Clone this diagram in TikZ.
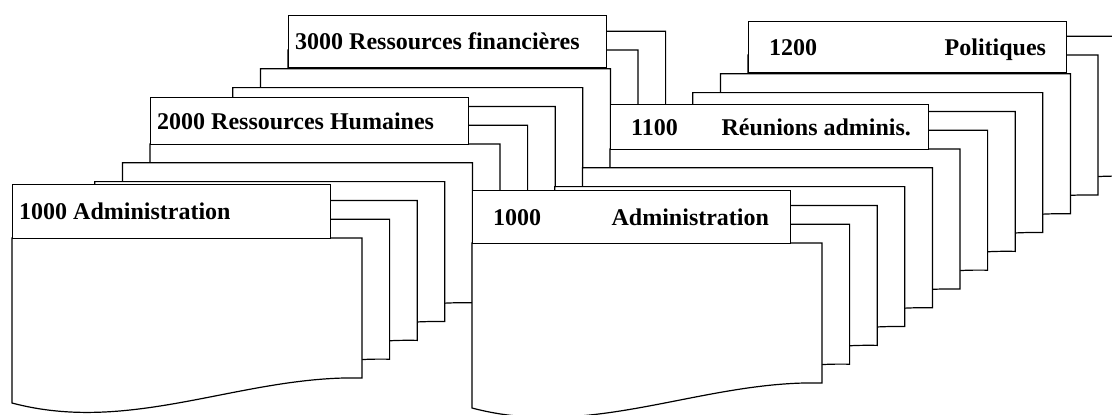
\documentclass[tikz,border=0pt]{standalone}
\usepackage{fontspec}
\setmainfont{Liberation Serif}
\usetikzlibrary{positioning}

\newcommand\pile[3]{%
  \foreach \k in {#3}
    \draw[sheet,shift={({#1+27.6*\k},{#2-18.8*\k})}]
      (0,0) -- (350,0) -- (350,140) .. controls (230,137) and (120,197) .. (0,165) -- cycle;}

\begin{document}
\begin{tikzpicture}[x=1pt,y=-1pt,
  sheet/.style={draw,fill=white,line width=1.2pt},
  tab/.style={draw,fill=white,line width=1.2pt,anchor=north west,
    minimum width=318pt,inner sep=0pt},
  tabtext/.style={font=\fontsize{24}{28}\selectfont\bfseries,
    inner sep=0pt,text height=16pt,text depth=0pt}]

\fill[white] (0,0) rectangle (1112,415);
\useasboundingbox (0,0) rectangle (1112,415);
\clip (0,0) rectangle (1112,415);

\pile{12}{238}{11,10}
\node[tab,minimum height=52pt] (fin) at (288,15) {};
\node[tabtext,right=7pt of fin.west] (fintxt) {3000 Ressources financières};
\pile{12}{238}{9,...,5}
\node[tab,minimum height=47pt] (rh) at (150,97) {};
\node[tabtext,right=7pt of rh.west] (rhtxt) {2000 Ressources Humaines};
\pile{12}{238}{4,...,0}
\node[tab,minimum height=54pt] (adm) at (12,184) {};
\node[tabtext,right=7pt of adm.west] (admtxt) {1000 Administration};

\pile{472}{243}{11,10}
\node[tab,minimum height=51pt] (pol) at (748,21) {};
\node[tabtext,right=21pt of pol.west] (polnum) {1200};
\node[tabtext,left=21pt of pol.east] (poltxt) {Politiques};
\pile{472}{243}{9,...,5}
\node[tab,minimum height=45pt] (reu) at (610,104) {};
\node[tabtext,right=21pt of reu.west] (reunum) {1100};
\node[tabtext,left=18pt of reu.east] (reutxt) {Réunions adminis.};
\pile{472}{243}{4,...,0}
\node[tab,minimum height=53pt] (adm2) at (472,190) {};
\node[tabtext,right=21pt of adm2.west] (adm2num) {1000};
\node[tabtext,left=22pt of adm2.east] (adm2txt) {Administration};
\end{tikzpicture}
\end{document}
